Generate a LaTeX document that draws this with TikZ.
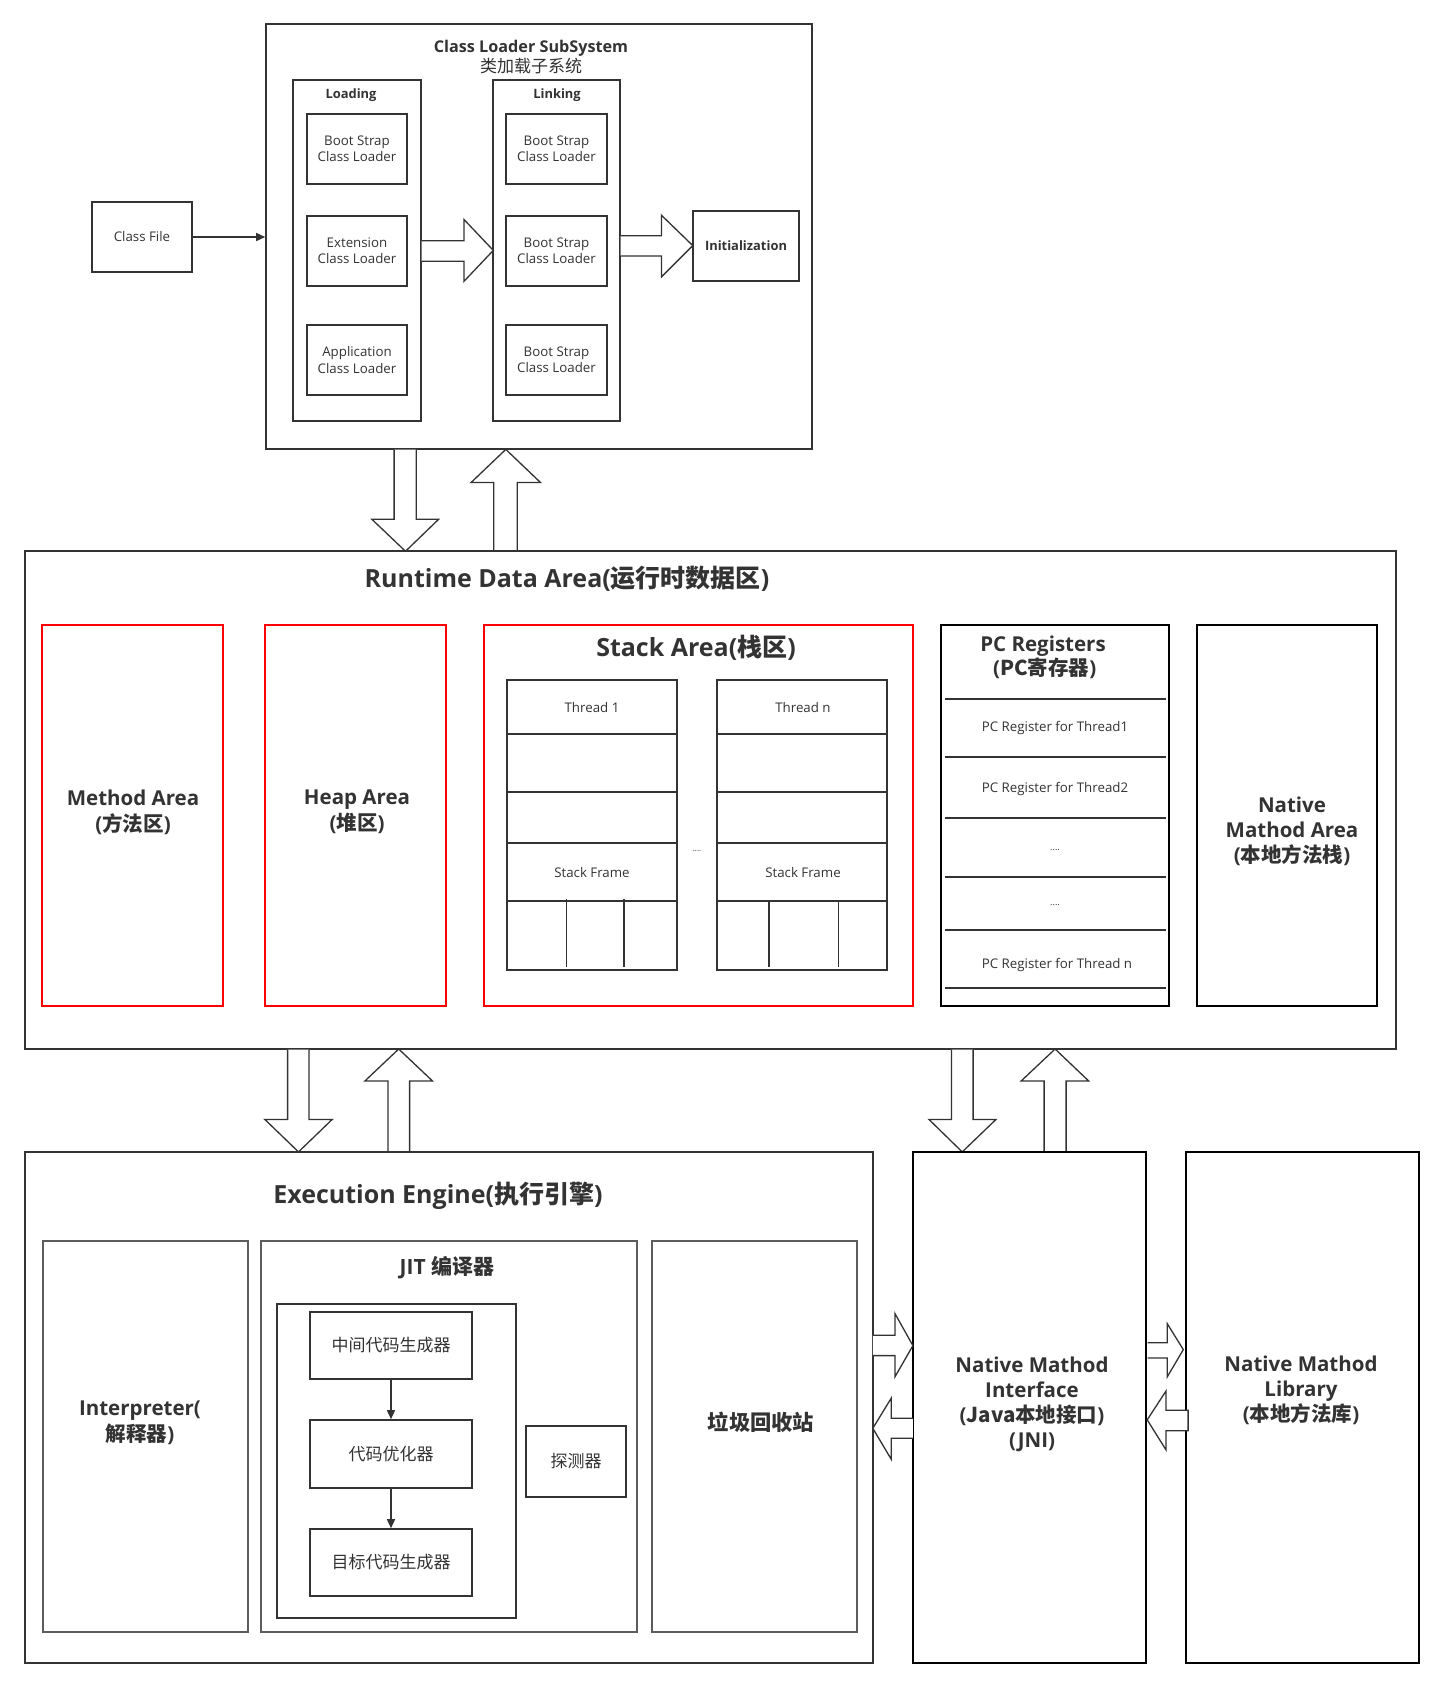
\documentclass[tikz,border=0pt]{standalone}
\usepackage{fontspec}
\setmainfont{Open Sans}
\newfontfamily\cjk{Noto Sans CJK SC}
\usetikzlibrary{arrows.meta}
\definecolor{ln}{HTML}{333333}
\definecolor{tx}{HTML}{333333}
\definecolor{rd}{HTML}{FF0000}
\newcommand\fSm{\fontsize{13.3}{16.3}\selectfont}
\newcommand\fSmB{\fontsize{12.9}{16.3}\bfseries\selectfont}
\newcommand\fTi{\fontsize{16.2}{20}\selectfont}
\newcommand\fMd{\fontsize{20.5}{25}\bfseries\selectfont}
\newcommand\fMdW{\fontsize{20.5}{26}\bfseries\selectfont}
\newcommand\fBg{\fontsize{25}{30}\bfseries\selectfont}
\newcommand\fCj{\fontsize{17}{20}\selectfont}
\newcommand\mybox[7]{\node[#6, minimum width={#4-#2}, minimum height={#5-#3}] (#1) at ({(#2+#4)/2},{(#3+#5)/2}) {#7};}
\tikzset{
  bx/.style={draw=ln, line width=1.6pt, inner sep=0pt, align=center, text=tx},
  kbx/.style={draw=black, line width=2.2pt, inner sep=0pt, align=center, text=tx},
  rbx/.style={draw=rd, line width=1.6pt, inner sep=0pt, align=center, text=tx},
  gbx/.style={draw=ln!80, line width=1.8pt, inner sep=0pt, align=center, text=tx},
  lbl/.style={inner sep=0pt, align=center, text=tx},
  blk/.style={draw=ln, line width=1.3pt, fill=white, line join=miter},
  dv/.style={draw=ln, line width=1.6pt},
  thin/.style={draw=ln, line width=1.5pt, -{Triangle[length=9pt,width=8pt]}}
}
\begin{document}
\begin{tikzpicture}[x=1pt,y=-1pt]
\useasboundingbox[fill=white] (0,0) rectangle (1444,1689);

% ---------------- Class loader subsystem
\mybox{cl}{266}{24}{812}{449}{bx}{}
\node[lbl, font=\fTi] (cltitle) at (531,57) {\textbf{Class Loader SubSystem}\\[0pt]{\cjk\fontsize{17}{20}\selectfont 类加载子系统}};
\mybox{loading}{293}{80}{421}{421}{bx}{}
\node[lbl, font=\fSmB] (loadingT) at (351,95) {Loading};
\mybox{l1}{307}{114}{407}{184}{bx, font=\fSm}{Boot Strap\\Class Loader}
\mybox{l2}{307}{216}{407}{286}{bx, font=\fSm}{Extension\\Class Loader}
\mybox{l3}{307}{325}{407}{395}{bx, font=\fSm}{Application\\Class Loader}
\mybox{linking}{493}{80}{620}{421}{bx}{}
\node[lbl, font=\fSmB] (linkingT) at (557,95) {Linking};
\mybox{k1}{506}{114}{607}{184}{bx, font=\fSm}{Boot Strap\\Class Loader}
\mybox{k2}{506}{216}{607}{286}{bx, font=\fSm}{Boot Strap\\Class Loader}
\mybox{k3}{506}{325}{607}{395}{bx, font=\fSm}{Boot Strap\\Class Loader}
\mybox{init}{693}{211}{799}{281}{bx, font=\fSmB}{Initialization}
\mybox{cf}{92}{202}{192}{272}{bx, font=\fSm}{Class File}
\draw[thin] (cf.east) -- (cf.east -| cl.west);

% block arrows in class loader
\draw[blk] (421.5,240.7) -- (464,240.7) -- (464,219.5) -- (493.3,250.4) -- (464,281.3) -- (464,261.3) -- (421.5,261.3);
\draw[blk] (620.5,235.8) -- (661.4,235.8) -- (661.4,215.2) -- (692.8,245.6) -- (661.4,277) -- (661.4,255.9) -- (620.5,255.9);

% CL <-> Runtime
\draw[blk] (394.1,449.5) -- (394.1,519.3) -- (371.9,519.3) -- (405.5,551.3) -- (438.6,519.3) -- (416.3,519.3) -- (416.3,449.5);
\draw[blk] (493.8,551) -- (493.8,482.5) -- (471.1,482.5) -- (505.8,449.4) -- (540.5,482.5) -- (517.2,482.5) -- (517.2,551);

% ---------------- Runtime data area
\mybox{rt}{25}{551}{1396}{1049}{bx}{}
\node[lbl, font=\fBg] (rtT) at (567,579) {Runtime Data Area({\cjk 运行时数据区})};
\mybox{ma}{42}{625}{223}{1006}{rbx}{}
\node[lbl, font=\fMdW] (maT) at (133,812) {Method Area\\({\cjk 方法区})};
\mybox{ha}{265}{625}{446}{1006}{rbx}{}
\node[lbl, font=\fMdW] (haT) at (357,812) {Heap Area\\({\cjk 堆区})};
\mybox{sa}{484}{625}{913}{1006}{rbx}{}
\node[lbl, font=\fBg] (saT) at (696,648) {Stack Area({\cjk 栈区})};
% thread 1
\mybox{t1}{507}{680}{677}{970}{bx}{}
\draw[dv] (t1.west |- 0,734) -- (t1.east |- 0,734);
\draw[dv] (t1.west |- 0,792) -- (t1.east |- 0,792);
\draw[dv] (t1.west |- 0,843) -- (t1.east |- 0,843);
\draw[dv] (t1.west |- 0,901) -- (t1.east |- 0,901);
\draw[dv] (566.5,899) -- (566.5,967);
\draw[dv] (624,899) -- (624,967);
\node[lbl, font=\fSm] (t1a) at (592,708) {Thread 1};
\node[lbl, font=\fSm] (t1b) at (592,873) {Stack Frame};
% thread n
\mybox{tn}{717}{680}{887}{970}{bx}{}
\draw[dv] (tn.west |- 0,734) -- (tn.east |- 0,734);
\draw[dv] (tn.west |- 0,792) -- (tn.east |- 0,792);
\draw[dv] (tn.west |- 0,843) -- (tn.east |- 0,843);
\draw[dv] (tn.west |- 0,901) -- (tn.east |- 0,901);
\draw[dv] (769,901) -- (769,967);
\draw[dv] (838.5,901) -- (838.5,967);
\node[lbl, font=\fSm] (tna) at (803,708) {Thread n};
\node[lbl, font=\fSm] (tnb) at (803,873) {Stack Frame};
\node[lbl, font=\fontsize{8}{8}\selectfont] (dots) at (697,851) {....};
% PC registers
\mybox{pc}{941}{625}{1169}{1006}{kbx}{}
\node[lbl, font=\fMd] (pcT) at (1043,657) {PC Registers\\[-1pt]\,({\cjk PC寄存器})};
\foreach \yy in {699,757,818,877,930,988} \draw[dv] (944.5,\yy) -- (1166,\yy);
\node[lbl, font=\fSm] (pc1) at (1055,728) {PC Register for Thread1};
\node[lbl, font=\fSm] (pc2) at (1055,789) {PC Register for Thread2};
\node[lbl, font=\fontsize{9}{9}\selectfont] (pc3) at (1055,850) {....};
\node[lbl, font=\fontsize{9}{9}\selectfont] (pc4) at (1055,905) {....};
\node[lbl, font=\fSm] (pc5) at (1057,965) {PC Register for Thread n};
\mybox{nma}{1197}{625}{1377}{1006}{kbx}{}
\node[lbl, font=\fMd] (nmaT) at (1292,831) {Native\\Mathod Area\\({\cjk 本地方法栈})};

% Runtime <-> Execution engine / JNI
\draw[blk] (287.6,1049.5) -- (287.6,1119.4) -- (264.8,1119.4) -- (298.5,1151.9) -- (332.2,1119.4) -- (308.9,1119.4) -- (308.9,1049.5);
\draw[blk] (387.9,1151) -- (387.9,1080.9) -- (365,1080.9) -- (398.7,1049) -- (432.4,1080.9) -- (409.6,1080.9) -- (409.6,1151);
\draw[blk] (951.4,1049.5) -- (951.4,1119.4) -- (928.9,1119.4) -- (962.2,1151.9) -- (996,1119.4) -- (973.1,1119.4) -- (973.1,1049.5);
\draw[blk] (1044.1,1151) -- (1044.1,1080.9) -- (1021.2,1080.9) -- (1055.1,1049) -- (1088.6,1080.9) -- (1066.1,1080.9) -- (1066.1,1151);

% ---------------- Execution engine
\mybox{ee}{25}{1152}{873}{1663}{bx}{}
\node[lbl, font=\fBg] (eeT) at (438,1196) {Execution Engine({\cjk 执行引擎})};
\mybox{itp}{43}{1241}{248}{1632}{gbx}{}
\node[lbl, font=\fMdW] (itpT) at (140,1423) {Interpreter(\\{\cjk 解释器})};
\mybox{jit}{261}{1241}{637}{1632}{gbx}{}
\node[lbl, font=\fontsize{21}{25}\bfseries\selectfont] (jitT) at (447,1268) {JIT {\cjk 编译器}};
\mybox{jin}{277}{1304}{516}{1618}{bx}{}
\mybox{g1}{310}{1312}{472}{1379}{bx, font=\fCj}{\cjk 中间代码生成器}
\mybox{g2}{310}{1420}{472}{1488}{bx, font=\fCj}{\cjk 代码优化器}
\mybox{g3}{310}{1529}{472}{1596}{bx, font=\fCj}{\cjk 目标代码生成器}
\draw[thin] (g1.south) -- (g2.north);
\draw[thin] (g2.south) -- (g3.north);
\mybox{probe}{526}{1426}{626}{1497}{bx, font=\fCj}{\cjk 探测器}
\mybox{gc}{652}{1241}{857}{1632}{gbx}{}
\node[lbl, font=\fontsize{21.3}{24}\selectfont] (gcT) at (761,1422) {\cjk\bfseries 垃圾回收站};

% ---------------- JNI and library
\mybox{jni}{913}{1152}{1146}{1663}{kbx}{}
\node[lbl, font=\fMd] (jniT) at (1032,1404) {Native Mathod\\Interface\\({\cjk Java本地接口})\\(JNI)};
\mybox{nml}{1186}{1152}{1419}{1663}{kbx}{}
\node[lbl, font=\fMd] (nmlT) at (1301,1390) {Native Mathod\\Library\\({\cjk 本地方法库})};

\draw[blk] (872.8,1335.2) -- (894.9,1335.2) -- (894.9,1313.5) -- (912.9,1345.6) -- (894.9,1376.9) -- (894.9,1355.6) -- (872.8,1355.6);
\draw[blk] (912.9,1418.2) -- (891.2,1418.2) -- (891.2,1398.2) -- (872.8,1428.3) -- (891.2,1459.2) -- (891.2,1438.3) -- (912.9,1438.3);
\draw[blk] (1147.6,1342.8) -- (1167.2,1342.8) -- (1167.2,1323.6) -- (1183.3,1349.6) -- (1167.2,1376.9) -- (1167.2,1358) -- (1147.6,1358);
\draw[blk] (1188.1,1410.2) -- (1166,1410.2) -- (1166,1391) -- (1147.2,1419.8) -- (1166,1449.9) -- (1166,1430.7) -- (1188.1,1430.7) -- cycle;
\end{tikzpicture}
\end{document}
